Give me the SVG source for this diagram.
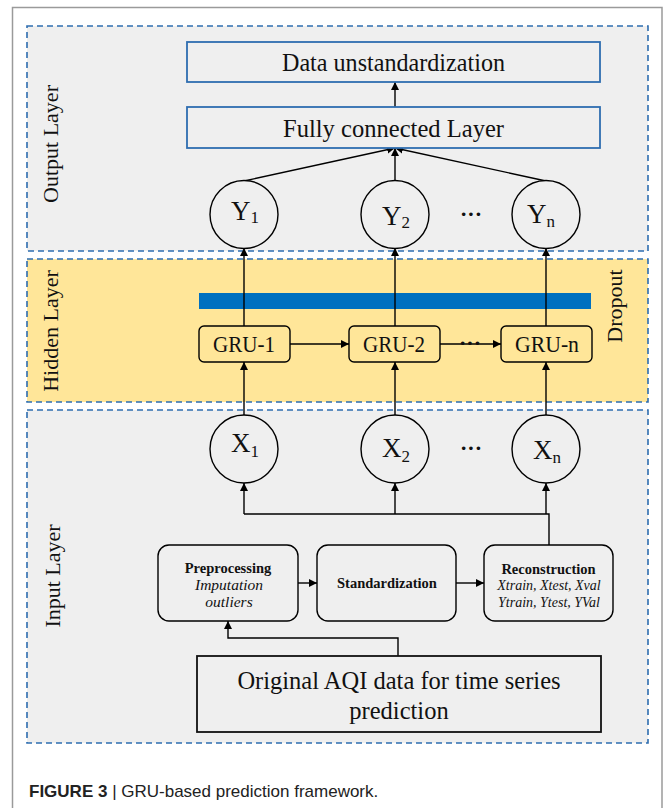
<svg xmlns="http://www.w3.org/2000/svg" width="663" height="808" viewBox="0 0 663 808">
<defs>
<marker id="arr" viewBox="0 0 10 10" refX="10" refY="5" markerWidth="8" markerHeight="8" markerUnits="userSpaceOnUse" orient="auto">
<path d="M0,0 L10,5 L0,10 z" fill="#000"/>
</marker>
</defs>
<style>
.layer{stroke:#2e6db0;stroke-width:1.6;stroke-dasharray:6,4}
.gray{fill:#efefef}
.yel{fill:#ffe699}
.bluebox{fill:#efefef;stroke:#2e6db0;stroke-width:1.8}
.circ{fill:#efefef;stroke:#000;stroke-width:1.4}
.gru{fill:#ffe699;stroke:#000;stroke-width:1.4}
.rbox{fill:#efefef;stroke:#000;stroke-width:1.4}
.ln{fill:none;stroke:#000;stroke-width:1.4}
.t{font-family:"Liberation Serif","Times New Roman",serif;fill:#111}
.big{font-size:25.5px}
.aqi{font-size:24.5px}
.side{font-size:22px}
.node{font-size:27px}
.sub{font-size:17px}
.dots{font-size:22px;font-weight:bold}
.gt{font-size:23px}
.small{font-size:14.5px}
.it{font-size:14px;font-style:italic}
.it2{font-size:15.5px;font-style:italic}
.b{font-weight:bold}
.cap{font-family:"Liberation Sans",Arial,sans-serif;font-size:17px;fill:#222}
</style>
<rect x="0" y="0" width="663" height="808" fill="#fff"/>
<rect x="12.5" y="7.5" width="649.5" height="900" fill="none" stroke="#9a9a9a" stroke-width="1.5"/>

<g id="output-layer">
<rect x="27" y="26" width="621" height="225" class="gray layer"/>
<text class="t side" transform="translate(58,144) rotate(-90)" text-anchor="middle">Output Layer</text>
</g>
<g id="hidden-layer">
<rect x="27" y="259" width="621" height="143" class="yel layer"/>
<text class="t side" transform="translate(58,331) rotate(-90)" text-anchor="middle">Hidden Layer</text>
<text class="t side" transform="translate(622,306) rotate(-90)" text-anchor="middle">Dropout</text>
</g>
<g id="input-layer">
<rect x="27" y="410" width="621" height="333" class="gray layer"/>
<text class="t side" transform="translate(60,576) rotate(-90)" text-anchor="middle">Input Layer</text>
</g>

<g id="dropout-bar">
<rect x="199" y="293" width="392" height="16" fill="#0070c0"/>
</g>

<g id="connectors">
<line x1="395" y1="107" x2="395" y2="82" class="ln" marker-end="url(#arr)"/>
<line x1="244" y1="181" x2="395" y2="148" class="ln" marker-end="url(#arr)"/>
<line x1="395" y1="181" x2="395" y2="148" class="ln" marker-end="url(#arr)"/>
<line x1="546" y1="181" x2="395" y2="148" class="ln" marker-end="url(#arr)"/>
<line x1="244" y1="326" x2="244" y2="248" class="ln" marker-end="url(#arr)"/>
<line x1="395" y1="326" x2="395" y2="248" class="ln" marker-end="url(#arr)"/>
<line x1="546" y1="326" x2="546" y2="248" class="ln" marker-end="url(#arr)"/>
<line x1="290" y1="344" x2="349" y2="344" class="ln" marker-end="url(#arr)"/>
<line x1="440" y1="344" x2="501" y2="344" class="ln" marker-end="url(#arr)"/>
<line x1="244" y1="415" x2="244" y2="362" class="ln" marker-end="url(#arr)"/>
<line x1="395" y1="415" x2="395" y2="362" class="ln" marker-end="url(#arr)"/>
<line x1="546" y1="415" x2="546" y2="362" class="ln" marker-end="url(#arr)"/>
<polyline points="549,545 549,514 244,514" class="ln"/>
<line x1="244" y1="514" x2="244" y2="483" class="ln" marker-end="url(#arr)"/>
<line x1="395" y1="514" x2="395" y2="483" class="ln" marker-end="url(#arr)"/>
<line x1="546" y1="514" x2="546" y2="483" class="ln" marker-end="url(#arr)"/>
<line x1="298" y1="583" x2="317" y2="583" class="ln" marker-end="url(#arr)"/>
<line x1="456" y1="583" x2="484" y2="583" class="ln" marker-end="url(#arr)"/>
<polyline points="398,656 398,638 228,638 228,621" class="ln" marker-end="url(#arr)"/>
</g>

<g id="data-unstandardization">
<rect x="187" y="42" width="413" height="40" class="bluebox"/>
<text class="t big" x="282" y="71" textLength="223" lengthAdjust="spacingAndGlyphs">Data unstandardization</text>
</g>
<g id="fully-connected">
<rect x="187" y="107" width="413" height="41" class="bluebox"/>
<text class="t big" x="283" y="137" textLength="221" lengthAdjust="spacingAndGlyphs">Fully connected Layer</text>
</g>

<g id="y1"><ellipse cx="244" cy="214.5" rx="34" ry="34" class="circ"/><text class="t node" x="231" y="220">Y<tspan class="sub" dy="3">1</tspan></text></g>
<g id="y2"><ellipse cx="395" cy="214.5" rx="34" ry="34" class="circ"/><text class="t node" x="382" y="225">Y<tspan class="sub" dy="3">2</tspan></text></g>
<g id="yn"><ellipse cx="546" cy="214.5" rx="34" ry="34" class="circ"/><text class="t node" x="527" y="223">Y<tspan class="sub" dy="4">n</tspan></text></g>
<text class="t dots" x="471" y="221" text-anchor="middle">···</text>

<g id="gru1"><rect x="199" y="326" width="91" height="36" rx="5" class="gru"/><text class="t gt" x="213" y="352" textLength="62" lengthAdjust="spacingAndGlyphs">GRU-1</text></g>
<g id="gru2"><rect x="349" y="326" width="91" height="36" rx="5" class="gru"/><text class="t gt" x="363" y="352" textLength="62" lengthAdjust="spacingAndGlyphs">GRU-2</text></g>
<g id="grun"><rect x="501" y="326" width="91" height="36" rx="5" class="gru"/><text class="t gt" x="515" y="352" textLength="64" lengthAdjust="spacingAndGlyphs">GRU-n</text></g>
<text class="t dots" x="470" y="350" text-anchor="middle">···</text>

<g id="x1"><ellipse cx="244" cy="449" rx="34" ry="34" class="circ"/><text class="t node" x="231" y="452">X<tspan class="sub" dy="5">1</tspan></text></g>
<g id="x2"><ellipse cx="395" cy="449" rx="34" ry="34" class="circ"/><text class="t node" x="382" y="457">X<tspan class="sub" dy="5">2</tspan></text></g>
<g id="xn"><ellipse cx="546" cy="449" rx="34" ry="34" class="circ"/><text class="t node" x="533" y="459">X<tspan class="sub" dy="4">n</tspan></text></g>
<text class="t dots" x="471" y="455" text-anchor="middle">···</text>

<g id="preprocessing">
<rect x="158" y="545" width="140" height="76" rx="11" class="rbox"/>
<text class="t small b" x="228" y="573" text-anchor="middle">Preprocessing</text>
<text class="t it2" x="229" y="590" text-anchor="middle">Imputation</text>
<text class="t it2" x="229" y="607" text-anchor="middle">outliers</text>
</g>
<g id="standardization">
<rect x="317" y="545" width="139" height="76" rx="11" class="rbox"/>
<text class="t small b" x="387" y="588" text-anchor="middle">Standardization</text>
</g>
<g id="reconstruction">
<rect x="484" y="545" width="129" height="76" rx="11" class="rbox"/>
<text class="t small b" x="548.5" y="574" text-anchor="middle">Reconstruction</text>
<text class="t it" x="549" y="590" text-anchor="middle">Xtrain, Xtest, Xval</text>
<text class="t it" x="549" y="607" text-anchor="middle">Ytrain, Ytest, YVal</text>
</g>
<g id="original-aqi">
<rect x="197" y="656" width="404" height="76" fill="#efefef" stroke="#111" stroke-width="1.8"/>
<text class="t aqi" x="399" y="689" text-anchor="middle">Original AQI data for time series</text>
<text class="t aqi" x="399" y="719" text-anchor="middle">prediction</text>
</g>

<text class="cap" x="29" y="797"><tspan font-weight="bold">FIGURE 3</tspan> | GRU-based prediction framework.</text>
</svg>
